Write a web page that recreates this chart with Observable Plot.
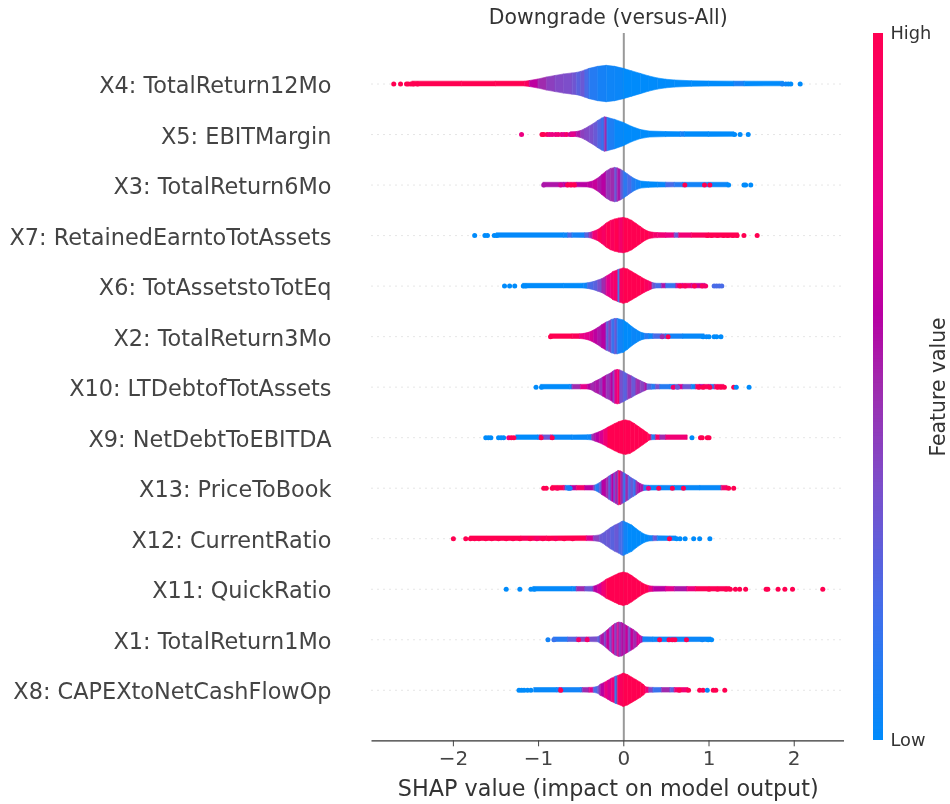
<!DOCTYPE html>
<html>
<head>
<meta charset="utf-8">
<script src="https://cdn.jsdelivr.net/npm/d3@7"></script>
<script src="https://cdn.jsdelivr.net/npm/@observablehq/plot@0.6"></script>
<style>
html,body{margin:0;padding:0;background:#fff;}
#chart{display:flex;width:950px;height:804px;}
#chart svg{display:block;background:#fff;font-family:"DejaVu Sans",sans-serif;filter:blur(0.4px);}
</style>
</head>
<body>
<div id="chart"></div>
<script>
// Rows, bottom to top
const rowLabels = ["X8: CAPEXtoNetCashFlowOp","X1: TotalReturn1Mo","X11: QuickRatio","X12: CurrentRatio","X13: PriceToBook","X9: NetDebtToEBITDA","X10: LTDebtofTotAssets","X2: TotalReturn3Mo","X6: TotAssetstoTotEq","X7: RetainedEarntoTotAssets","X3: TotalReturn6Mo","X5: EBITMargin","X4: TotalReturn12Mo"];
const xTicks = [-2,-1,0,1,2];
const colorStops = [0,0.17,0.35,0.5,0.6,0.76,1];
const colorValues = ["#008bfb","#3f70ec","#7a50cc","#a02bae","#b800a3","#e8008a","#ff0051"];

// Each body row: [SHAP value, density, feature value]
const X4_body = [[-2.48,4.7,1],[-1.9,4.7,1],[-1.5,4.7,1],[-1.16,4.7,.95],[-1.10,6,.62],[-1.0,9,.5],[-.9,13,.42],[-.8,16,.38],[-.7,19,.36],[-.6,21,.32],[-.55,22,.25],[-.5,24,.3],[-.45,27,.2],[-.4,30,.1],[-.3,34,.06],[-.2,36,.04],[-.1,34,.03],[0,30,0],[.1,25,0],[.2,20,0],[.3,15,0],[.4,11,0],[.5,8.5,0],[.6,7,0],[.8,5.5,0],[1.0,5,0],[1.3,4.7,.07],[1.42,4.7,0],[1.88,4.5,0]];
const X4_dots = [[-2.70,1],[-2.62,1],[-2.55,1],[-2.53,1],[-2.5,1],[-2.47,1],[-2.42,1],[1.86,.05],[1.9,.04],[1.93,.02],[1.96,0],[2.07,0]];
const X5_body = [[-.62,4.5,.7],[-.55,5,.55],[-.5,7,.42],[-.45,11,.38],[-.4,16,.35],[-.35,21,.3],[-.3,27,.22],[-.25,32,.15],[-.22,34,.5],[-.19,33,.08],[-.1,29,.02],[0,23,0],[.1,15,0],[.2,9,0],[.3,6,0],[.5,5,0],[.67,4.7,.06],[.72,4.7,0],[1.0,4.7,0],[1.3,4.5,0]];
const X5_dots = [[-1.2,.8],[-.96,1],[-.94,1],[-.9,.95],[-.87,.8],[-.84,.8],[-.8,.8],[-.77,.85],[-.73,.8],[-.7,.75],[-.67,.9],[-.63,.7],[-.6,.75],[1.3,0],[1.365,0],[1.46,0]];
const X3_body = [[-.94,4.5,.55],[-.7,4.5,.6],[-.65,4.5,.85],[-.55,4.5,.6],[-.42,4.7,.62],[-.36,7,.65],[-.3,13,.55],[-.25,20,.6],[-.2,27,.45],[-.15,32,.5],[-.1,34,.3],[-.07,33,.55],[-.03,30,.3],[0,27,.12],[.05,21,.2],[.1,15,.1],[.14,11,.05],[.2,7,0],[.3,5.5,0],[.4,5,.02],[.5,4.7,.2],[.6,4.5,.1],[.7,4.5,.05],[1.0,4.5,.03],[1.23,4.5,0]];
const X3_dots = [[-.94,.55],[-.74,.7],[-.66,1],[-.62,1],[-.58,1],[.716,1],[.947,1],[1.01,1],[1.23,0],[1.41,0],[1.43,0],[1.49,0]];
const X7_body = [[-1.49,4.5,.01],[-.7,4.5,.03],[-.65,4.5,.2],[-.6,4.5,.05],[-.45,4.7,.25],[-.4,5,.5],[-.36,7,.85],[-.3,11,.97],[-.25,17,.92],[-.2,24,1],[-.15,29,.95],[-.1,32,1],[-.05,34,.9],[0,35,1],[.05,33,1],[.1,29,1],[.15,23,1],[.2,17,1],[.25,11,1],[.3,7,.95],[.35,5.5,.9],[.4,5,.85],[.5,4.7,.8],[.6,4.5,.3],[.65,4.5,.85],[.8,4.5,.95],[1.0,4.5,.98],[1.35,4.5,1]];
const X7_dots = [[-1.75,0],[-1.63,0],[-1.6,0],[-1.52,0],[-1.49,0],[.98,1],[1.03,1],[1.1,1],[1.17,1],[1.22,1],[1.28,1],[1.33,1],[1.41,1],[1.565,1]];
const X6_body = [[-1.18,4.5,0],[-.7,4.5,0],[-.47,4.7,.03],[-.42,5.5,.2],[-.35,8,.25],[-.3,11,.35],[-.25,14,.5],[-.2,19,.75],[-.15,24,.85],[-.12,28,.9],[-.07,31,.85],[-.06,32,.1],[-.04,33,.95],[0,35,1],[.05,33,1],[.1,28,1],[.15,23,1],[.2,18,1],[.25,13,.95],[.3,9,.9],[.34,6,.3],[.38,4.7,.2],[.45,4.5,.55],[.5,4.5,.15],[.62,4.5,.7],[.7,4.5,.85],[.8,4.5,.65],[.96,4.5,.9]];
const X6_dots = [[-1.40,0],[-1.34,0],[-1.28,0],[-1.18,0],[-1.15,0],[.66,1],[.72,.95],[.83,1],[.92,.95],[.96,.9],[1.06,.2],[1.09,.2],[1.12,.2],[1.15,.2]];
const X2_body = [[-.86,4.5,1],[-.6,4.5,.97],[-.51,4.7,.8],[-.46,5.5,.75],[-.4,8,.7],[-.35,12,.62],[-.3,17,.55],[-.25,23,.6],[-.2,28,.25],[-.17,30,.4],[-.14,33,.15],[-.1,35,.3],[-.07,35,.05],[0,32,0],[.05,26,0],[.1,19,.03],[.15,13,.02],[.2,8,.02],[.25,5.5,.1],[.3,5,.03],[.35,4.7,.2],[.45,4.5,.25],[.5,4.5,.05],[.7,4.5,.02],[.95,4.5,0]];
const X2_dots = [[-.86,1],[.52,1],[.45,.5],[.93,0],[.97,.02],[1.0,0],[1.06,0],[1.09,0],[1.14,0]];
const X10_body = [[-.97,4.5,0],[-.63,4.5,.02],[-.6,4.5,.5],[-.5,4.5,.75],[-.42,4.7,.6],[-.38,6,.5],[-.33,11,.55],[-.28,15,.45],[-.24,19,.6],[-.2,23,.45],[-.15,27,.6],[-.12,31,.4],[-.1,33,.75],[-.07,34,.9],[-.04,33,.35],[0,30,.25],[.05,25,.45],[.1,21,.3],[.15,16,.5],[.2,12,.4],[.25,8,.55],[.28,5.5,.25],[.33,5,.1],[.38,4.7,.35],[.43,4.5,.1],[.55,4.5,.05],[.6,4.5,.3],[.65,4.5,.7],[.7,4.5,.3],[.8,4.5,.03],[.85,4.5,.9],[.9,4.5,.6],[.95,4.5,.95],[1.0,4.5,.7],[1.03,4.5,.1],[1.07,4.5,.9],[1.18,4.5,1]];
const X10_dots = [[-1.03,0],[-.966,0],[.58,.9],[.63,.3],[.88,1],[.93,1],[1.01,1],[1.1,1],[1.14,1],[1.18,1],[1.29,1],[1.32,0],[1.47,0]];
const X9_body = [[-1.26,4.5,0],[-1.0,4.5,.05],[-.98,4.5,.8],[-.95,4.5,.3],[-.85,4.5,.75],[-.83,4.5,.02],[-.6,4.5,.02],[-.42,4.7,.03],[-.37,5.5,.5],[-.33,8,.6],[-.28,11,.7],[-.23,15,.85],[-.18,20,1],[-.1,27,1],[-.05,31,1],[0,33.5,1],[.03,34,1],[.08,32,1],[.13,27,1],[.18,21,1],[.23,15,1],[.28,9,1],[.3,6,.95],[.33,5,.1],[.38,4.7,.9],[.43,4.5,.5],[.5,4.5,.85],[.75,4.5,.9]];
const X9_dots = [[-1.62,0],[-1.59,0],[-1.56,0],[-1.47,0],[-1.44,0],[-1.41,0],[-1.35,.8],[-1.32,1],[-1.29,1],[-.97,1],[-.84,1],[.8,0],[.9,1],[.92,1],[.98,1],[1.0,1]];
const X13_body = [[-.84,4.5,1],[-.7,4.5,.8],[-.68,4.5,.05],[-.62,4.5,.6],[-.55,4.5,.9],[-.45,4.5,.6],[-.35,4.7,.4],[-.33,5.5,.1],[-.28,10,.3],[-.25,14,.6],[-.2,19,.5],[-.17,23,.25],[-.14,26,.6],[-.11,29,.3],[-.09,31,.65],[-.07,33,.15],[-.06,34,.95],[-.03,33,.5],[0,30,.15],[.03,27,.5],[.06,24,.2],[.09,20,.3],[.12,17,.15],[.15,14,.5],[.18,10,.6],[.2,8,.55],[.24,5.5,.1],[.3,4.7,.03],[.6,4.5,.02],[.9,4.5,.02],[1.15,4.5,.9],[1.22,4.5,1]];
const X13_dots = [[-.94,1],[-.91,1],[-.84,1],[-.78,.95],[-.65,.1],[-.63,.05],[.29,.8],[.41,1],[.57,1],[.7,1],[1.23,1],[1.29,1]];
const X12_body = [[-1.8,4.5,1],[-1.2,4.5,.95],[-.9,4.5,1],[-.43,4.7,.7],[-.35,5,.4],[-.28,6.5,.3],[-.24,10,.28],[-.2,15,.3],[-.15,21,.25],[-.1,26,.3],[-.05,30,.2],[-.02,33,.2],[0,34,.05],[.05,30,0],[.1,26,0],[.15,19,0],[.2,13,0],[.25,8,0],[.3,5.5,.03],[.35,5,.3],[.4,4.7,.03],[.55,4.5,.03],[.62,4.5,0]];
const X12_dots = [[-2.0,1],[-1.855,1],[-1.8,1],[-1.75,1],[-1.7,1],[-1.62,1],[-1.55,1],[-1.47,1],[-1.38,1],[-1.3,1],[-1.22,1],[-1.1,1],[-1.02,.9],[-.95,1],[-.88,1],[-.8,.95],[-.7,1],[-.6,1],[.536,1],[.62,0],[.66,0],[.72,0],[.82,0],[.89,0],[1.01,0]];
const X11_body = [[-1.06,4.5,.01],[-.6,4.5,.03],[-.55,4.5,.5],[-.45,4.5,.3],[-.35,5,.6],[-.3,8,.7],[-.25,13,.85],[-.2,19,1],[-.1,27,1],[-.05,31,1],[0,33,1],[.05,31,1],[.1,26,1],[.15,20,1],[.2,14,1],[.25,9,1],[.3,6,.8],[.35,5,.6],[.5,4.7,.75],[.6,4.5,.55],[.75,4.5,.8],[.85,4.5,.97],[1.25,4.5,1]];
const X11_dots = [[-1.38,0],[-1.22,0],[-1.09,0],[-1.05,0],[1.0,1],[1.1,1],[1.2,1],[1.25,1],[1.31,1],[1.36,1],[1.43,1],[1.67,1],[1.69,1],[1.81,1],[1.89,1],[1.98,1],[2.335,1]];
const X1_body = [[-.82,4.5,.1],[-.65,4.5,.25],[-.55,4.5,.4],[-.43,4.5,.7],[-.4,4.5,.35],[-.3,5,.25],[-.27,8,.55],[-.22,14,.3],[-.2,17,.65],[-.16,23,.35],[-.13,27,.7],[-.1,31,.4],[-.07,33,.75],[-.05,34,.45],[-.02,33,.6],[0,31,.5],[.03,28,.65],[.06,25,.35],[.09,22,.65],[.12,19,.5],[.16,14,.7],[.18,10,.75],[.2,7,.55],[.23,5,.05],[.35,4.7,.03],[1.03,4.5,0]];
const X1_dots = [[-.89,.05],[-.82,.15],[-.53,.9],[-.43,.9],[.42,1],[.53,1],[.57,1],[.6,1],[.735,1],[.92,.03],[.99,0],[1.03,0]];
const X8_body = [[-1.05,4.5,.02],[-.78,4.5,.05],[-.75,4.5,.8],[-.72,4.5,.05],[-.5,4.5,.05],[-.48,4.5,.5],[-.4,4.7,.75],[-.35,5,.2],[-.3,7,.35],[-.27,11,.6],[-.22,15,.8],[-.18,19,.7],[-.14,23,.85],[-.1,26,.4],[-.09,27,.02],[-.07,28,.95],[0,33,1],[.05,30,1],[.1,25,1],[.15,20,1],[.2,15,1],[.24,10,1],[.26,6,.85],[.3,5,.4],[.35,4.7,.15],[.45,4.5,.5],[.55,4.5,.25],[.6,4.5,.85],[.76,4.5,1]];
const X8_dots = [[-1.23,0],[-1.2,0],[-1.17,0],[-1.13,0],[-1.09,0],[-.74,1],[.65,1],[.76,1],[.89,1],[.93,1],[.98,.02],[1.05,1],[1.08,1],[1.185,1]];

const rowBodies = [X8_body,X1_body,X11_body,X12_body,X13_body,X9_body,X10_body,X2_body,X6_body,X7_body,X3_body,X5_body,X4_body];
const rowDots = [X8_dots,X1_dots,X11_dots,X12_dots,X13_dots,X9_dots,X10_dots,X2_dots,X6_dots,X7_dots,X3_dots,X5_dots,X4_dots];
const rowIndex = rowLabels.map((_, i) => i);

const segments = rowBodies.flatMap((body, row) =>
  body.slice(0, -1).flatMap((p, i) => [
    {x: p[0], d: p[1], fv: p[2], row, seg: row + "-" + i},
    {x: body[i + 1][0], d: body[i + 1][1], fv: p[2], row, seg: row + "-" + i}
  ]));
const dots = rowDots.flatMap((list, row) => list.map(([x, fv]) => ({x, fv, row})));

const INK = "#333333";
const SOFT = "#444444";
const colorScale = {type: "linear", domain: colorStops, range: colorValues};

const main = Plot.plot({
  width: 860, height: 804,
  marginLeft: 371.5, marginRight: 16, marginTop: 33, marginBottom: 63.7,
  x: {domain: [-2.955, 2.59]},
  y: {domain: [-1, 13]},
  color: colorScale,
  marks: [
    Plot.ruleY(rowIndex, {stroke: "#cccccc", strokeDasharray: "1,5", strokeWidth: 1}),
    Plot.ruleX([0], {stroke: "#999999", strokeWidth: 2}),
    Plot.areaY(segments, {x: "x", y1: d => d.row - d.d / 100, y2: d => d.row + d.d / 100, z: "seg", fill: "fv", stroke: "fv", strokeWidth: 0.6}),
    Plot.dot(dots, {x: "x", y: "row", fill: "fv", r: 2.5}),
    Plot.ruleY([-1], {stroke: INK, strokeWidth: 1.2}),
    Plot.axisY({ticks: rowIndex, tickFormat: i => rowLabels[i], tickSize: 0, tickPadding: 40.5, dy: 2, label: null, fontSize: 22.4, color: SOFT}),
    Plot.axisX({ticks: xTicks, tickFormat: d3.format("d"), tickSize: 6, tickPadding: 4, label: null, fontSize: 20, color: SOFT}),
    Plot.text(["Downgrade (versus-All)"], {frameAnchor: "top", dy: -16, fontSize: 20.4, fill: INK, lineAnchor: "middle"}),
    Plot.text(["SHAP value (impact on model output)"], {frameAnchor: "bottom", dy: 48, fontSize: 22.3, fill: INK, lineAnchor: "middle"})
  ]
});

const barSteps = d3.range(0, 200).map(i => i / 200);
const bar = Plot.plot({
  width: 90, height: 804,
  marginLeft: 13, marginRight: 67, marginTop: 33, marginBottom: 64,
  x: {domain: [0, 1], axis: null},
  y: {domain: [0, 1]},
  color: colorScale,
  marks: [
    Plot.rect(barSteps, {x1: 0, x2: 1, y1: d => d, y2: d => Math.min(1, d + 0.01), fill: d => d}),
    Plot.axisY({anchor: "right", ticks: [0, 1], tickFormat: d => d ? "High" : "Low", tickSize: 0, tickPadding: 7, label: null, fontSize: 17.8, color: INK}),
    Plot.text(["Feature value"], {frameAnchor: "right", textAnchor: "middle", dx: 55, rotate: -90, fontSize: 20.4, fill: INK})
  ]
});

document.getElementById("chart").append(main, bar);
</script>
</body>
</html>
